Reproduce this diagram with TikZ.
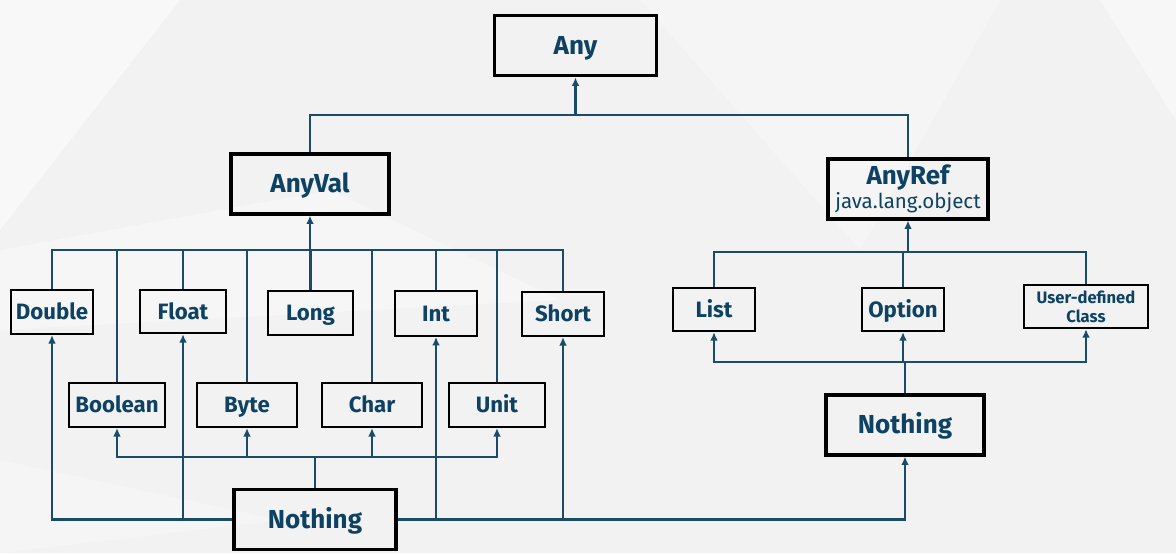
\documentclass[tikz,border=0pt]{standalone}
\usepackage{fontspec}
\setsansfont{Fira Sans}
\usetikzlibrary{arrows.meta}
\definecolor{typeblue}{RGB}{14,66,98}
\definecolor{linkblue}{RGB}{26,76,106}
\definecolor{bggray}{RGB}{242,242,243}

\tikzset{
  bigbox/.style={draw=black, line width=2.2pt, text=typeblue, font=\sffamily\bfseries\fontsize{18.5}{21}\selectfont, inner sep=0pt, align=center, text height=12.7pt, text depth=0pt},
  smallbox/.style={draw=black, line width=1.5pt, text=typeblue, font=\sffamily\bfseries\fontsize{15.8}{18}\selectfont, inner sep=0pt, align=center, text height=10.9pt, text depth=0pt},
  link/.style={draw=linkblue, line width=1.5pt},
  up/.style={link, -{Latex[length=6pt,width=5.5pt]}}
}

\begin{document}
\begin{tikzpicture}[x=0.025cm, y=-0.025cm]
% background
\fill[bggray] (0,0) rectangle (1176,553);
\fill[white, opacity=0.5] (0,0) -- (180,0) -- (0,230) -- cycle;
\fill[white, opacity=0.35] (0,250) -- (330,190) -- (560,300) -- (0,330) -- cycle;
\fill[white, opacity=0.3] (640,0) -- (1000,0) -- (860,250) -- cycle;
\fill[white, opacity=0.45] (1100,0) -- (1176,0) -- (1176,120) -- cycle;
\fill[white, opacity=0.3] (0,460) -- (280,520) -- (0,553) -- cycle;
\useasboundingbox (0,0) rectangle (1176,553);

% top of the hierarchy
\node[bigbox, minimum width=4.07cm, minimum height=1.52cm] (any) at (575.5,45.5) {Any};
\node[bigbox, minimum width=3.95cm, minimum height=1.5cm] (anyval) at (310,184) {AnyVal};
\node[bigbox, minimum width=4cm, minimum height=1.5cm, text height=, text depth=] (anyref) at (908,189)
  {AnyRef\\[-4pt]{\mdseries\fontsize{14.6}{16}\selectfont java.lang.object}};

% value types
\node[smallbox, minimum width=2.07cm, minimum height=1.1cm] (double) at (52,312) {Double};
\node[smallbox, minimum width=2.15cm, minimum height=1.08cm] (float) at (183,311.5) {Float};
\node[smallbox, minimum width=2.12cm, minimum height=1.1cm] (long) at (310.5,313) {Long};
\node[smallbox, minimum width=2.05cm, minimum height=1.12cm] (int) at (436,313.5) {Int};
\node[smallbox, minimum width=2.07cm, minimum height=1.1cm] (short) at (563,314) {Short};
\node[smallbox, minimum width=2.4cm, minimum height=1.1cm] (boolean) at (117,405) {Boolean};
\node[smallbox, minimum width=2.52cm, minimum height=1.1cm] (byte) at (247,405) {Byte};
\node[smallbox, minimum width=2.5cm, minimum height=1.1cm] (char) at (372,405) {Char};
\node[smallbox, minimum width=2.42cm, minimum height=1.1cm] (unit) at (497,405) {Unit};
\node[bigbox, minimum width=4.05cm, minimum height=1.52cm] (nothingL) at (315,519.5) {Nothing};

% reference types
\node[smallbox, minimum width=2.05cm, minimum height=1.08cm] (list) at (714,309.5) {List};
\node[smallbox, minimum width=2.05cm, minimum height=1.08cm] (option) at (903,309.5) {Option};
\node[smallbox, minimum width=3.12cm, minimum height=1.08cm, text height=, text depth=, font=\sffamily\bfseries\fontsize{11.8}{13.5}\selectfont] (udc) at (1086,306.5) {User-defined\\Class};
\node[bigbox, minimum width=3.95cm, minimum height=1.5cm] (nothingR) at (905,425) {Nothing};

% Any links
\coordinate (anybus) at (575.5,115);
\draw[link] (anyval.north) |- (anybus) -| (anyref.north);
\draw[up] (anybus) -- (any.south);

% AnyVal links
\coordinate (valbus) at (310,250);
\draw[link] (double.north) |- (valbus) -| (short.north);
\draw[up] (valbus) -- (anyval.south);
\foreach \t in {float,long,int,boolean,byte,char,unit}
  \draw[link] (\t.north) -- (\t.north |- valbus);

% AnyRef links
\coordinate (refbus) at (908,252);
\draw[link] (list.north) |- (refbus) -| (udc.north);
\draw[link] (option.north) -- (option.north |- refbus);
\draw[up] (refbus) -- (anyref.south);

% Nothing (values)
\coordinate (nlbus) at (315,457);
\draw[link] (nothingL.north) -- (nlbus);
\foreach \t in {boolean,byte,char,unit}
  \draw[up] (nlbus) -| (\t.south);
\foreach \t in {double,float}
  \draw[up] (nothingL.west) -| (\t.south);
\foreach \t in {int,short,nothingR}
  \draw[up] (nothingL.east) -| (\t.south);

% Nothing (references)
\coordinate (nrbus) at (905,362);
\draw[link] (nothingR.north) -- (nrbus);
\foreach \t in {list,option,udc}
  \draw[up] (nrbus) -| (\t.south);
\end{tikzpicture}
\end{document}
